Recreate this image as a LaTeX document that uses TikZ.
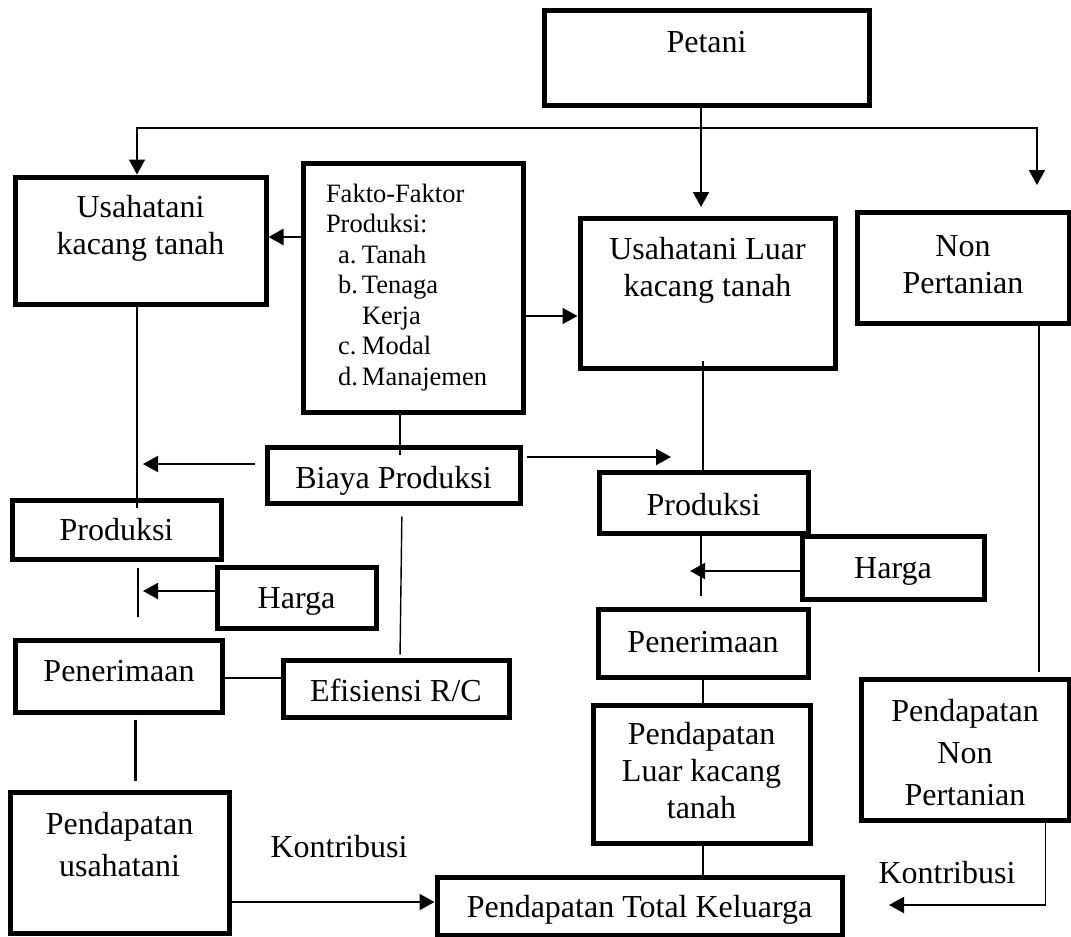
\documentclass[tikz,border=0pt]{standalone}
\usepackage{fontspec}
\setmainfont{Liberation Serif}
\usetikzlibrary{arrows.meta}

\newcommand{\bigfont}{\fontsize{32}{37}\selectfont}
\newcommand{\listfont}{\fontsize{26.5}{30.5}\selectfont}
% text of a box, raised by #1 inside its frame
\newcommand{\lift}[2]{\raisebox{#1}[\height][\depth]{\begin{tabular}{@{}c@{}}#2\end{tabular}}}
\newcommand{\faktor}[1]{\hspace*{12pt}\makebox[24pt][l]{#1}}

\tikzset{
  box/.style={draw, line width=5pt, inner sep=0pt, font=\bigfont},
  word/.style={font=\bigfont, inner sep=0pt, anchor=base},
  conn/.style={line width=1.9pt},
  fine/.style={line width=1.4pt},
  heavy/.style={line width=2.8pt},
}

\begin{document}
\begin{tikzpicture}[x=1pt, y=-1pt, >={Triangle[width=16pt,length=15pt]}]
    \useasboundingbox (0,0) rectangle (1071,937);

    % boxes
    \node[box, minimum width=325pt, minimum height=95pt] (petani) at (706.5,57.5) {\lift{12pt}{Petani}};
    \node[box, minimum width=251pt, minimum height=127pt] (uk) at (140.5,240.5) {\lift{11.5pt}{Usahatani\\kacang tanah}};
    \node[box, minimum width=220pt, minimum height=249pt, font=\listfont] (ff) at (413,287.5) {\begin{tabular}{@{}p{174pt}@{}}
        Fakto-Faktor\\
        Produksi:\\
        \faktor{a.}Tanah\\
        \faktor{b.}Tenaga\\
        \hspace*{36pt}Kerja\\
        \faktor{c.}Modal\\
        \faktor{d.}Manajemen
      \end{tabular}};
    \node[box, minimum width=255pt, minimum height=150pt] (ul) at (707.5,293) {\lift{22pt}{Usahatani Luar\\kacang tanah}};
    \node[box, minimum width=212pt, minimum height=111pt] (np) at (963,267.5) {\lift{0pt}{Non\\Pertanian}};

    \node[box, minimum width=253pt, minimum height=56pt] (bp) at (393.5,475) {\lift{-6pt}{Biaya Produksi}};
    \node[box, minimum width=209pt, minimum height=59pt] (p1) at (116.5,529.5) {\lift{-4pt}{Produksi}};
    \node[box, minimum width=159pt, minimum height=61pt] (h1) at (296.5,597.5) {\lift{-4pt}{Harga}};
    \node[box, minimum width=207pt, minimum height=72pt] (r1) at (119,676) {\lift{2pt}{Penerimaan}};
    \node[box, minimum width=226pt, minimum height=57pt] (ef) at (396,688.5) {\lift{-6pt}{Efisiensi R/C}};
    \node[box, minimum width=219pt, minimum height=141pt] (pu) at (119.5,862.5) {\lift{14pt}{Pendapatan\\[5pt]usahatani}};

    \node[box, minimum width=209pt, minimum height=61pt] (p2) at (703.5,502.5) {\lift{-5.5pt}{Produksi}};
    \node[box, minimum width=182pt, minimum height=63pt] (h2) at (893,567.5) {\lift{-4pt}{Harga}};
    \node[box, minimum width=210pt, minimum height=68pt] (r2) at (703,643) {\lift{-2pt}{Penerimaan}};
    \node[box, minimum width=217pt, minimum height=138pt] (pl) at (701.5,774) {\lift{0pt}{Pendapatan\\Luar kacang\\tanah}};
    \node[box, minimum width=208pt, minimum height=141pt] (pn) at (965,749.5) {\lift{-7pt}{Pendapatan\\[5pt]Non\\[5pt]Pertanian}};
    \node[box, minimum width=405pt, minimum height=58pt] (tk) at (639.5,906) {\lift{-4.5pt}{Pendapatan Total Keluarga}};

    \node[word] (k1) at (339,857) {Kontribusi};
    \node[word] (k2) at (947,883) {Kontribusi};

    % free ends
    \coordinate (lx) at (137,0);
    \coordinate (rx) at (703,0);
    \coordinate (bar) at (0,128);
    \coordinate (npin) at (1037,185);
    \coordinate (ulin) at (701,207);
    \coordinate (lin1) at (143,464);
    \coordinate (rin1) at (671,457);
    \coordinate (lin2) at (143,591);
    \coordinate (rin2) at (690,571);
    \coordinate (kin) at (889,905);

    % petani
    \draw[conn,<->] (uk.north -| lx) |- (bar -| npin) -- (npin);
    \draw[conn,->] (petani.south -| ulin) -- (ulin);

    % faktor produksi
    \draw[heavy,->] (ff.west |- 0,237) -- (uk.east |- 0,237);
    \draw[conn,->] (ff.east |- 0,316) -- (ul.west |- 0,316);
    \draw[fine, shorten <=-5pt, shorten >=-10pt] (ff.south -| 400,0) -- (bp.north -| 400,0);

    % left column
    \draw[fine, shorten <=-4pt, shorten >=-10pt] (uk.south -| lx) -- (p1.north -| lx);
    \draw[conn,->, shorten <=10pt] (bp.west |- lin1) -- (lin1);
    \draw[fine, shorten <=6pt, shorten >=21pt] (p1.south -| 138,0) -- (r1.north -| 138,0);
    \draw[conn,->] (h1.west |- lin2) -- (lin2);
    \draw[heavy, shorten <=-5pt] (r1.east |- 0,678) -- (ef.west |- 0,678);
    \draw[fine, shorten <=11pt, shorten >=3pt] (bp.south -| 402,0) -- (ef.north -| 400,0);
    \draw[heavy, shorten <=5pt, shorten >=9pt] (r1.south -| 135.5,0) -- (pu.north -| 135.5,0);
    \draw[conn,->] (pu.east |- 0,902) -- (tk.west |- 0,902);

    % middle column
    \draw[conn,->, shorten <=4pt] (bp.east |- rin1) -- (rin1);
    \draw[conn, shorten <=-10pt] (ul.south -| rx) -- (p2.north -| rx);
    \draw[conn, shorten >=11pt] (p2.south -| 701,0) -- (r2.north -| 701,0);
    \draw[conn,->] (h2.west |- rin2) -- (rin2);
    \draw[conn] (r2.south -| rx) -- (pl.north -| rx);
    \draw[conn] (pl.south -| rx) -- (tk.north -| rx);

    % non pertanian
    \draw[fine, shorten >=5pt] (np.south -| 1039,0) -- (pn.north -| 1039,0);
    \draw[conn,->] (pn.south -| 1045.5,0) |- (kin);
\end{tikzpicture}
\end{document}
